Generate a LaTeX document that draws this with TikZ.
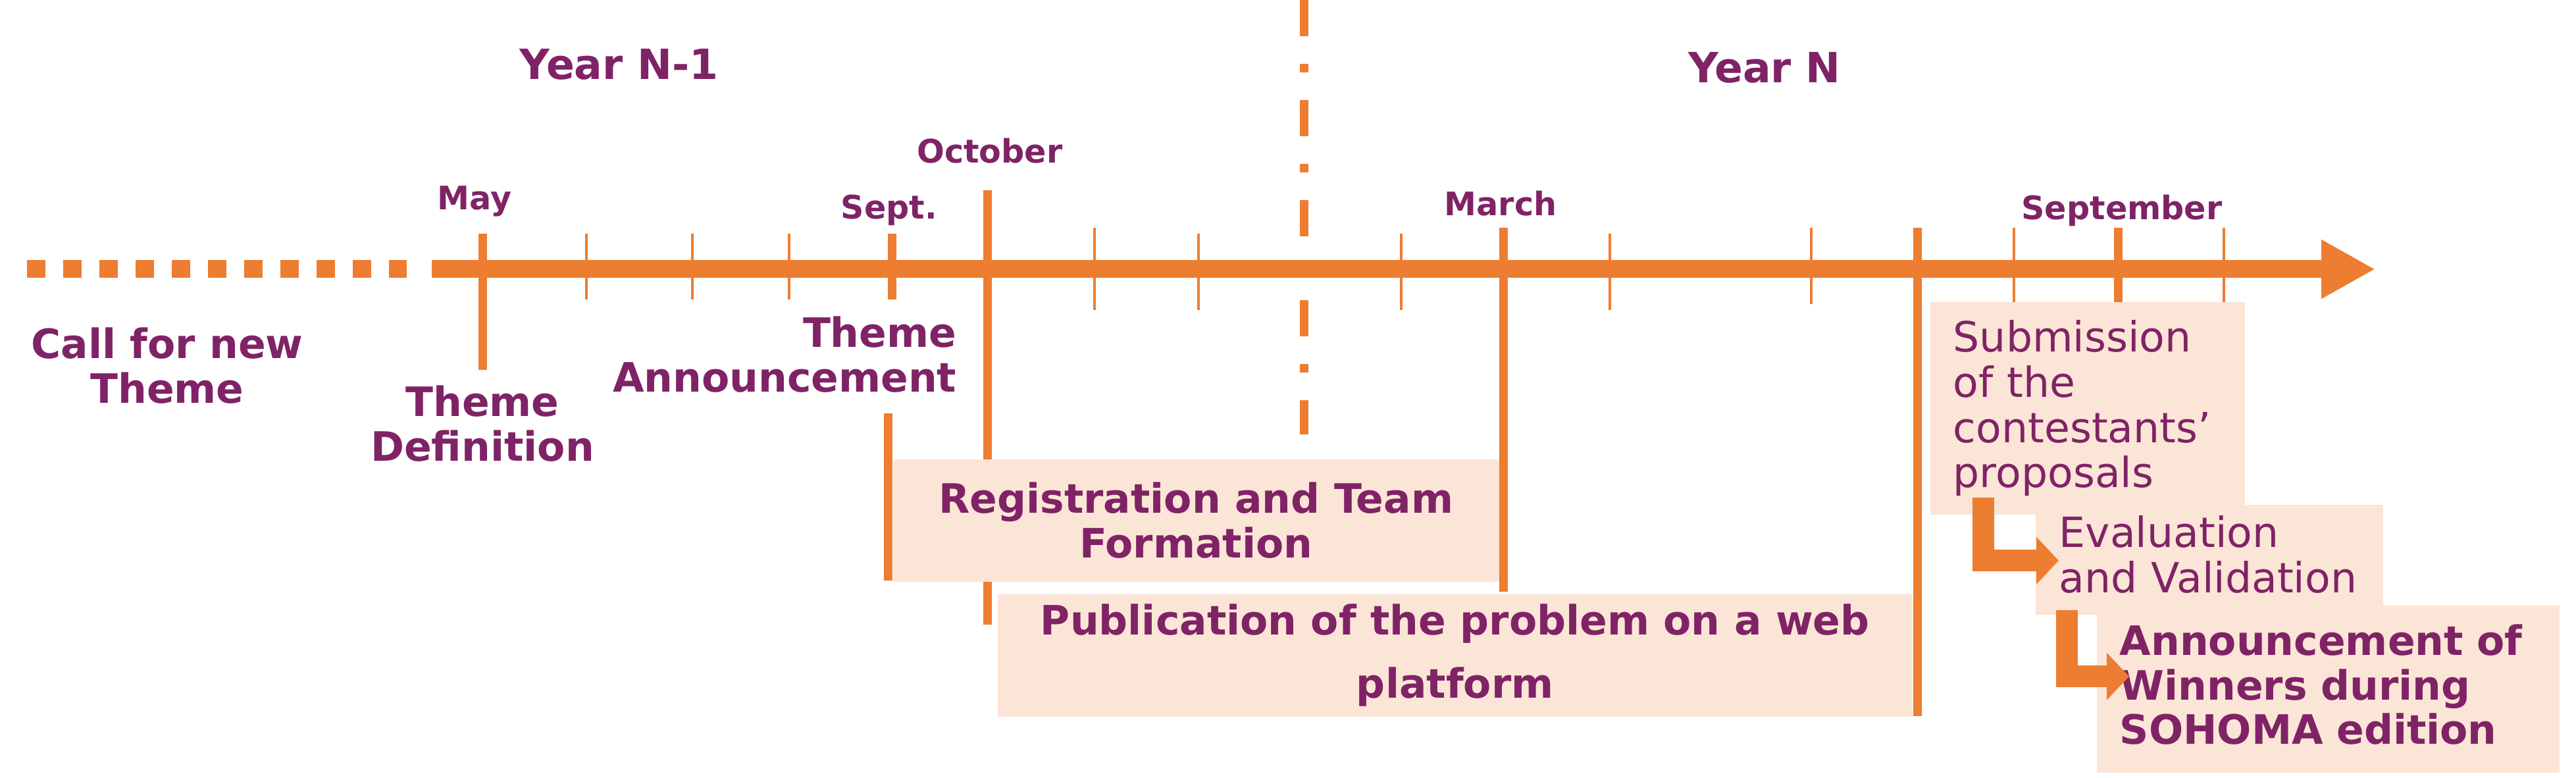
\documentclass[tikz,border=0pt]{standalone}
\usepackage{fontspec}
\setmainfont{DejaVu Sans}
\usepackage{xcolor}
\definecolor{cLine}{HTML}{ED7D31}
\definecolor{cText}{HTML}{7F2366}
\definecolor{cBox}{HTML}{FBE5D6}
\usepackage{tikz}
\usetikzlibrary{arrows.meta}
\tikzset{
  tick-major/.style={draw=cLine,line width=1.3mm},
  tick-minor/.style={draw=cLine,line width=0.45mm},
  lbl-month/.style={text=cText,inner sep=0pt,anchor=base,
    font=\fontsize{14}{16}\selectfont\bfseries},
  lbl-year/.style={text=cText,inner sep=0pt,anchor=base,
    font=\fontsize{18}{20}\selectfont\bfseries},
  lbl-step/.style={text=cText,inner sep=0pt,align=center,
    font=\fontsize{17.5}{19.3}\selectfont\bfseries},
  node-phase/.style={fill=cBox,inner sep=0pt,anchor=north west,align=center,
    text=cText,font=\fontsize{17.5}{19.3}\selectfont\bfseries},
  node-stage/.style={fill=cBox,inner ysep=0pt,anchor=north west,align=left,
    text=cText,font=\fontsize{18}{19.6}\selectfont},
  arrow-step/.style={-{Triangle[length=3.4mm,width=7mm]},draw=cLine,line width=3.3mm},
}

\begin{document}
\begin{tikzpicture}
  \useasboundingbox (0,4.09) rectangle (39.14,-7.73);
  % timeline
  \draw[draw=cLine,line width=2.7mm,dash pattern=on 2.75mm off 2.75mm] (0.41,0) -- (6.18,0);
  \draw[draw=cLine,line width=2.7mm,-{Triangle[length=8.2mm,width=8.4mm]}] (6.56,0) -- (36.09,0);
  \draw[draw=cLine,line width=1.3mm,dash pattern=on 5.5mm off 4.2mm on 1.3mm off 4.2mm]
    (19.81,4.09) -- (19.81,-2.51);
  % month ticks
  \draw[tick-major] (7.33,0.54)  -- (7.33,-1.53);
  \draw[tick-major] (13.55,0.54) -- (13.55,-0.46);
  \draw[tick-major] (13.49,-2.19) -- (13.49,-4.73);
  \draw[tick-major] (15.00,1.20) -- (15.00,-5.40);
  \draw[tick-major] (22.84,0.63) -- (22.84,-4.90);
  \draw[tick-major] (29.13,0.63) -- (29.13,-6.79);
  \draw[tick-major] (32.18,0.63) -- (32.18,-0.60);
  \draw[tick-minor] (8.91,0.54)  -- (8.91,-0.46);
  \draw[tick-minor] (10.52,0.54) -- (10.52,-0.46);
  \draw[tick-minor] (11.99,0.54) -- (11.99,-0.46);
  \draw[tick-minor] (16.63,0.63) -- (16.63,-0.62);
  \draw[tick-minor] (18.21,0.54) -- (18.21,-0.62);
  \draw[tick-minor] (21.29,0.54) -- (21.29,-0.62);
  \draw[tick-minor] (24.46,0.54) -- (24.46,-0.62);
  \draw[tick-minor] (27.52,0.63) -- (27.52,-0.53);
  \draw[tick-minor] (30.60,0.63) -- (30.60,-0.60);
  \draw[tick-minor] (33.79,0.63) -- (33.79,-0.60);

  \node[lbl-year]  (yPrev) at (9.41,2.88)  {Year N-1};
  \node[lbl-year]  (yCur)  at (26.81,2.83) {Year N};
  \node[lbl-month] (mMay)  at (7.21,0.90)  {May};
  \node[lbl-month] (mSep)  at (13.51,0.76) {Sept.};
  \node[lbl-month] (mOct)  at (15.04,1.61) {October};
  \node[lbl-month] (mMar)  at (22.80,0.81) {March};
  \node[lbl-month] (mSepN) at (32.24,0.75) {September};

  \node[lbl-step,anchor=north] (call) at (2.54,-0.88) {Call for new\\Theme};
  \node[lbl-step,anchor=north] (def)  at (7.33,-1.76) {Theme\\Definition};
  \node[lbl-step,anchor=north east,align=right] (annc) at (14.54,-0.71) {Theme\\Announcement};

  \node[node-phase,minimum width=92.1mm,minimum height=18.6mm] (reg) at (13.56,-2.88)
    {Registration and Team\\Formation};
  \node[node-phase,minimum width=139mm,minimum height=18.6mm]  (pub) at (15.15,-4.93)
    {Publication of the problem on a web\\[2.8mm]platform};
  \node[node-stage,inner xsep=3.5mm,text width=40.8mm,minimum height=32.3mm] (sub) at (29.32,-0.49)
    {Submission\\of the\\contestants’\\proposals};
  \node[node-stage,inner xsep=3.6mm,text width=45.6mm,minimum height=16.7mm] (eval) at (30.92,-3.57)
    {Evaluation\\and Validation\rule[-1.6mm]{0pt}{1mm}};
  \node[node-stage,inner xsep=3.5mm,text width=63.3mm,minimum height=25.4mm,
    font=\fontsize{17.5}{19.3}\selectfont\bfseries] (win) at (31.85,-5.10)
    {Announcement of\\Winners during\\SOHOMA edition\rule[-1.4mm]{0pt}{1mm}};

  \draw[arrow-step] ([xshift=8.1mm,yshift=2.6mm]sub.south west) |- ([xshift=3.6mm,yshift=-0.15mm]eval.west);
  \draw[arrow-step] ([xshift=4.8mm,yshift=0.7mm]eval.south west) |- ([xshift=5mm,yshift=1.9mm]win.west);
\end{tikzpicture}
\end{document}
